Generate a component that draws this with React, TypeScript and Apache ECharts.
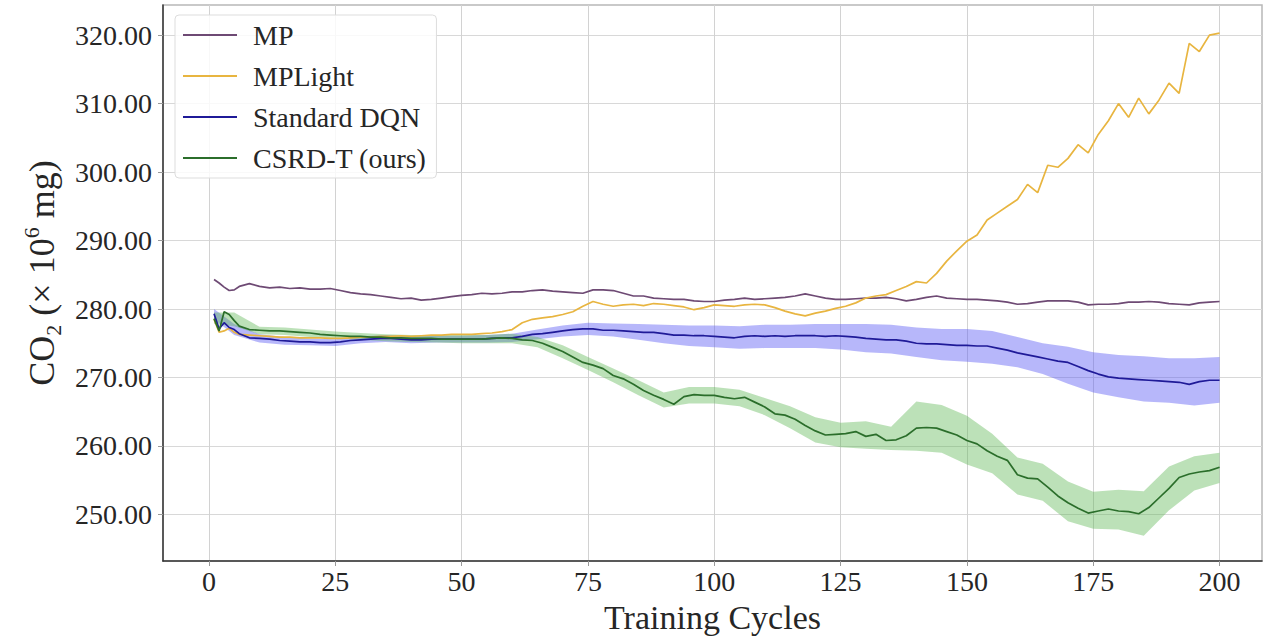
import React, { useEffect, useRef } from "react";
import * as echarts from "echarts";

// Training cycles at which the lines were read
const cycles = [1, 2, 3, 4, 5, 6,
  8, 10, 12, 14, 16, 18, 20, 22, 24, 26, 28, 30, 32, 34, 36, 38, 40, 42, 44, 46, 48, 50,
  52, 54, 56, 58, 60, 62, 64, 66, 68, 70, 72, 74, 76, 78, 80, 82, 84, 86, 88, 90, 92, 94, 96, 98, 100,
  102, 104, 106, 108, 110, 112, 114, 116, 118, 120, 122, 124, 126, 128, 130, 132, 134, 136, 138, 140, 142, 144, 146, 148, 150,
  152, 154, 156, 158, 160, 162, 164, 166, 168, 170, 172, 174, 176, 178, 180, 182, 184, 186, 188, 190, 192, 194, 196, 198, 200];

const mp = [284.3, 283.8, 283.2, 282.7, 282.8, 283.3,
  283.7, 283.3, 283.1, 283.2, 283.0, 283.1, 282.9, 282.9, 283.0, 282.7, 282.4, 282.2, 282.1, 281.9, 281.7, 281.5, 281.6, 281.3, 281.4, 281.6, 281.8, 282.0,
  282.1, 282.3, 282.2, 282.3, 282.5, 282.5, 282.7, 282.8, 282.6, 282.5, 282.4, 282.3, 282.8, 282.8, 282.7, 282.3, 281.9, 281.9, 281.6, 281.5, 281.4, 281.4, 281.2, 281.1, 281.1,
  281.3, 281.4, 281.6, 281.4, 281.5, 281.6, 281.7, 281.9, 282.2, 281.9, 281.6, 281.4, 281.4, 281.5, 281.6, 281.6, 281.7, 281.5, 281.2, 281.4, 281.7, 281.9, 281.6, 281.5, 281.4,
  281.4, 281.3, 281.2, 281.0, 280.7, 280.8, 281.0, 281.2, 281.2, 281.2, 281.0, 280.6, 280.7, 280.7, 280.8, 281.0, 281.0, 281.1, 281.0, 280.8, 280.7, 280.6, 280.9, 281.0, 281.1];

const mpLight = [278.5, 276.6, 276.8, 277.2, 276.6, 276.3,
  276.2, 276.1, 276.0, 275.9, 275.9, 275.8, 275.8, 275.8, 275.7, 275.7, 275.8, 275.9, 275.9, 276.0, 276.0, 276.1, 276.0, 276.1, 276.2, 276.2, 276.3, 276.3,
  276.3, 276.4, 276.5, 276.7, 277.0, 278.0, 278.5, 278.7, 278.9, 279.2, 279.6, 280.4, 281.1, 280.7, 280.4, 280.6, 280.7, 280.5, 280.8, 280.7, 280.5, 280.3, 279.9, 280.2, 280.6,
  280.5, 280.4, 280.6, 280.7, 280.6, 280.2, 279.7, 279.3, 279.0, 279.4, 279.7, 280.1, 280.4, 280.9, 281.6, 281.9, 282.1, 282.7, 283.3, 284.0, 283.8, 285.2, 287.0, 288.5, 289.9,
  290.8, 293.0, 294.0, 295.0, 296.0, 298.2, 297.0, 301.0, 300.7, 302.0, 304.0, 302.8, 305.5, 307.5, 310.0, 308.0, 310.8, 308.5, 310.5, 313.0, 311.5, 318.8, 317.6, 320.0, 320.3];

const dqn = [279.3, 277.1, 278.0, 277.3, 277.0, 276.4,
  275.8, 275.7, 275.6, 275.4, 275.3, 275.2, 275.2, 275.1, 275.1, 275.2, 275.4, 275.5, 275.6, 275.7, 275.7, 275.6, 275.5, 275.5, 275.6, 275.6, 275.6, 275.6,
  275.6, 275.6, 275.7, 275.8, 275.8, 276.0, 276.3, 276.4, 276.6, 276.8, 277.0, 277.1, 277.1, 276.9, 276.9, 276.8, 276.7, 276.6, 276.6, 276.4, 276.2, 276.2, 276.1, 276.1, 276.0,
  275.9, 275.8, 276.0, 276.1, 276.0, 276.1, 276.0, 276.1, 276.1, 276.1, 276.0, 276.1, 276.0, 275.9, 275.7, 275.6, 275.5, 275.5, 275.3, 275.0, 274.9, 274.9, 274.8, 274.7, 274.7,
  274.6, 274.6, 274.3, 274.0, 273.6, 273.3, 273.0, 272.7, 272.4, 272.2, 271.6, 271.0, 270.5, 270.1, 269.9, 269.8, 269.7, 269.6, 269.5, 269.4, 269.3, 269.0, 269.4, 269.6, 269.6];

const csrd = [278.6, 276.8, 279.6, 279.2, 278.3, 277.5,
  277.0, 276.9, 276.8, 276.8, 276.7, 276.6, 276.5, 276.3, 276.2, 276.1, 276.0, 276.0, 275.9, 275.9, 275.8, 275.8, 275.7, 275.7, 275.7, 275.6, 275.6, 275.6,
  275.6, 275.6, 275.7, 275.8, 275.7, 275.5, 275.4, 275.0, 274.4, 273.8, 273.0, 272.2, 271.8, 271.3, 270.3, 269.8, 269.0, 268.1, 267.4, 266.8, 266.1, 267.2, 267.5, 267.4, 267.4,
  267.1, 266.9, 267.1, 266.4, 265.7, 264.7, 264.5, 263.9, 263.0, 262.2, 261.6, 261.7, 261.8, 262.1, 261.4, 261.7, 260.8, 260.9, 261.5, 262.6, 262.7, 262.6, 262.1, 261.6, 260.8,
  260.3, 259.3, 258.5, 257.9, 255.8, 255.3, 255.2, 254.0, 252.7, 251.7, 250.9, 250.2, 250.5, 250.8, 250.5, 250.4, 250.1, 251.0, 252.4, 253.8, 255.4, 255.9, 256.2, 256.4, 256.9];

// Shaded spread bands
const bandCycles = [1, 5, 10, 15, 20, 25, 30, 35, 40, 45, 50, 55, 60, 65, 70, 75, 80, 85, 90, 95, 100,
  105, 110, 115, 120, 125, 130, 135, 140, 145, 150, 155, 160, 165, 170, 175, 180, 185, 190, 195, 200];
const dqnLow = [278.5, 276.2, 275.1, 274.8, 274.7, 274.6, 275.0, 275.2, 275.0, 275.1, 275.1, 275.1, 275.2, 275.6, 276.0, 276.2, 276.0, 275.5, 275.0, 274.6, 274.4,
  274.2, 274.3, 274.3, 274.3, 274.1, 273.7, 273.5, 273.0, 272.5, 272.3, 272.0, 271.5, 270.5, 269.1, 267.8, 267.1, 266.5, 266.3, 265.9, 266.3];
const dqnHigh = [280.0, 277.8, 276.3, 275.9, 275.7, 275.6, 276.0, 276.2, 276.0, 276.1, 276.1, 276.2, 276.4, 277.0, 277.6, 278.0, 277.9, 277.8, 277.7, 277.6, 277.6,
  277.5, 277.7, 277.7, 277.8, 277.8, 277.8, 277.7, 277.3, 277.1, 277.1, 276.8, 275.9, 275.0, 274.5, 273.7, 273.3, 273.1, 272.8, 272.8, 273.0];
const csrdLow = [277.8, 277.5, 276.3, 276.2, 275.9, 275.7, 275.5, 275.3, 275.2, 275.1, 275.0, 275.0, 275.0, 274.4, 272.8, 271.1, 269.3, 267.4, 265.6, 266.2, 266.2,
  265.8, 264.5, 262.6, 260.5, 259.8, 259.6, 259.4, 259.3, 259.0, 257.3, 256.0, 252.9, 252.0, 249.0, 247.9, 247.8, 246.9, 250.6, 253.5, 254.6];
const csrdHigh = [279.5, 279.5, 277.4, 277.3, 277.0, 276.7, 276.5, 276.3, 276.2, 276.2, 276.2, 276.2, 276.4, 275.9, 274.7, 273.0, 271.3, 269.6, 267.8, 268.6, 268.6,
  268.2, 267.0, 265.8, 264.2, 263.4, 263.6, 262.8, 266.5, 266.0, 264.4, 261.8, 258.3, 257.4, 254.8, 253.3, 253.6, 253.4, 257.0, 258.5, 259.0];

const xTicks = [0, 25, 50, 75, 100, 125, 150, 175, 200];
const yTicks = [250, 260, 270, 280, 290, 300, 310, 320];

const seriesNames = ["MP", "MPLight", "Standard DQN", "CSRD-T (ours)"];

const FONT = "'Liberation Serif', 'DejaVu Serif', serif";
const TXT = "#262626";

function pairs(ys: number[]) {
  return cycles.map((c, i) => [c, ys[i]]);
}

function band(lo: number[], hi: number[], fill: string, z: number) {
  return {
    type: "custom",
    silent: true,
    z,
    clip: true,
    data: [[bandCycles[0], lo[0]]],
    encode: { x: 0, y: 1 },
    renderItem: (params: any, api: any) => {
      if (params.dataIndex !== 0) return null;
      const upper = bandCycles.map((c, i) => api.coord([c, hi[i]]));
      const lower = bandCycles.map((c, i) => api.coord([c, lo[i]])).reverse();
      return {
        type: "polygon",
        shape: { points: upper.concat(lower) },
        style: { fill },
      };
    },
  };
}

function line(name: string, ys: number[], color: string, z: number) {
  return {
    name,
    type: "line",
    data: pairs(ys),
    symbol: "none",
    z,
    lineStyle: { color, width: 1.7 },
    itemStyle: { color },
  };
}

export default function App() {
  const ref = useRef<HTMLDivElement>(null);
  useEffect(() => {
    if (!ref.current) return;
    const chart = echarts.init(ref.current, null, { renderer: "svg" });
    chart.setOption({
      animation: false,
      backgroundColor: "#ffffff",
      grid: {
        left: 163,
        right: 7,
        top: 5,
        bottom: 77,
        show: true,
        borderColor: "#b8b8b8",
        borderWidth: 1.5,
        backgroundColor: "transparent",
      },
      legend: {
        data: seriesNames,
        orient: "vertical",
        left: 175,
        top: 15,
        padding: [6, 10, 6, 8],
        icon: "rect",
        itemWidth: 54,
        itemHeight: 2,
        itemGap: 13,
        selectedMode: false,
        backgroundColor: "rgba(255,255,255,0.85)",
        borderColor: "#dddddd",
        borderWidth: 1,
        borderRadius: 4,
        textStyle: { fontFamily: FONT, fontSize: 28, color: TXT, padding: [0, 0, 0, 11] },
      },
      xAxis: {
        type: "value",
        min: -9.1,
        max: 208.4,
        name: "Training Cycles",
        nameLocation: "middle",
        nameGap: 39,
        nameTextStyle: { fontFamily: FONT, fontSize: 34, color: TXT },
        axisLine: { show: true, onZero: false, lineStyle: { color: "#333333", width: 1.5 } },
        axisTick: { show: true, customValues: xTicks, length: 5, lineStyle: { color: "#999999" } },
        axisLabel: {
          customValues: xTicks,
          fontFamily: FONT,
          fontSize: 28,
          color: TXT,
          margin: 6,
        },
        splitLine: { show: true, lineStyle: { color: "#d2d2d2", width: 1 } },
      },
      yAxis: {
        type: "value",
        min: 243.2,
        max: 324.4,
        name: "{a|CO}{s|2}{a| (× 10}{p|6}{a| mg)}",
        nameLocation: "middle",
        nameGap: 98,
        nameRotate: 90,
        nameTextStyle: {
          fontFamily: FONT,
          fontSize: 36,
          color: TXT,
          padding: [0, 0, 0, 20],
          rich: {
            a: { fontFamily: FONT, fontSize: 36, lineHeight: 44, color: TXT },
            s: { fontFamily: FONT, fontSize: 22, lineHeight: 22, verticalAlign: "bottom", color: TXT },
            p: { fontFamily: FONT, fontSize: 22, lineHeight: 22, verticalAlign: "top", color: TXT },
          },
        },
        axisLine: { show: true, onZero: false, lineStyle: { color: "#333333", width: 1.5 } },
        axisTick: { show: true, customValues: yTicks, length: 5, lineStyle: { color: "#999999" } },
        axisLabel: {
          customValues: yTicks,
          formatter: (v: number) => v.toFixed(2),
          fontFamily: FONT,
          fontSize: 28,
          color: TXT,
          margin: 11,
        },
        splitLine: { show: true, lineStyle: { color: "#d8d8d8", width: 1 } },
      },
      series: [
        line(seriesNames[0], mp, "#6e4a74", 5),
        line(seriesNames[1], mpLight, "#e8b540", 5),
        band(dqnLow, dqnHigh, "rgba(96,96,245,0.45)", 2),
        line(seriesNames[2], dqn, "#1f1a98", 6),
        band(csrdLow, csrdHigh, "rgba(96,184,86,0.42)", 3),
        line(seriesNames[3], csrd, "#2b6e2b", 7),
      ],
    });
    return () => chart.dispose();
  }, []);
  return <div ref={ref} style={{ width: 1269, height: 639, position: "absolute", left: 0, top: 0 }} />;
}
